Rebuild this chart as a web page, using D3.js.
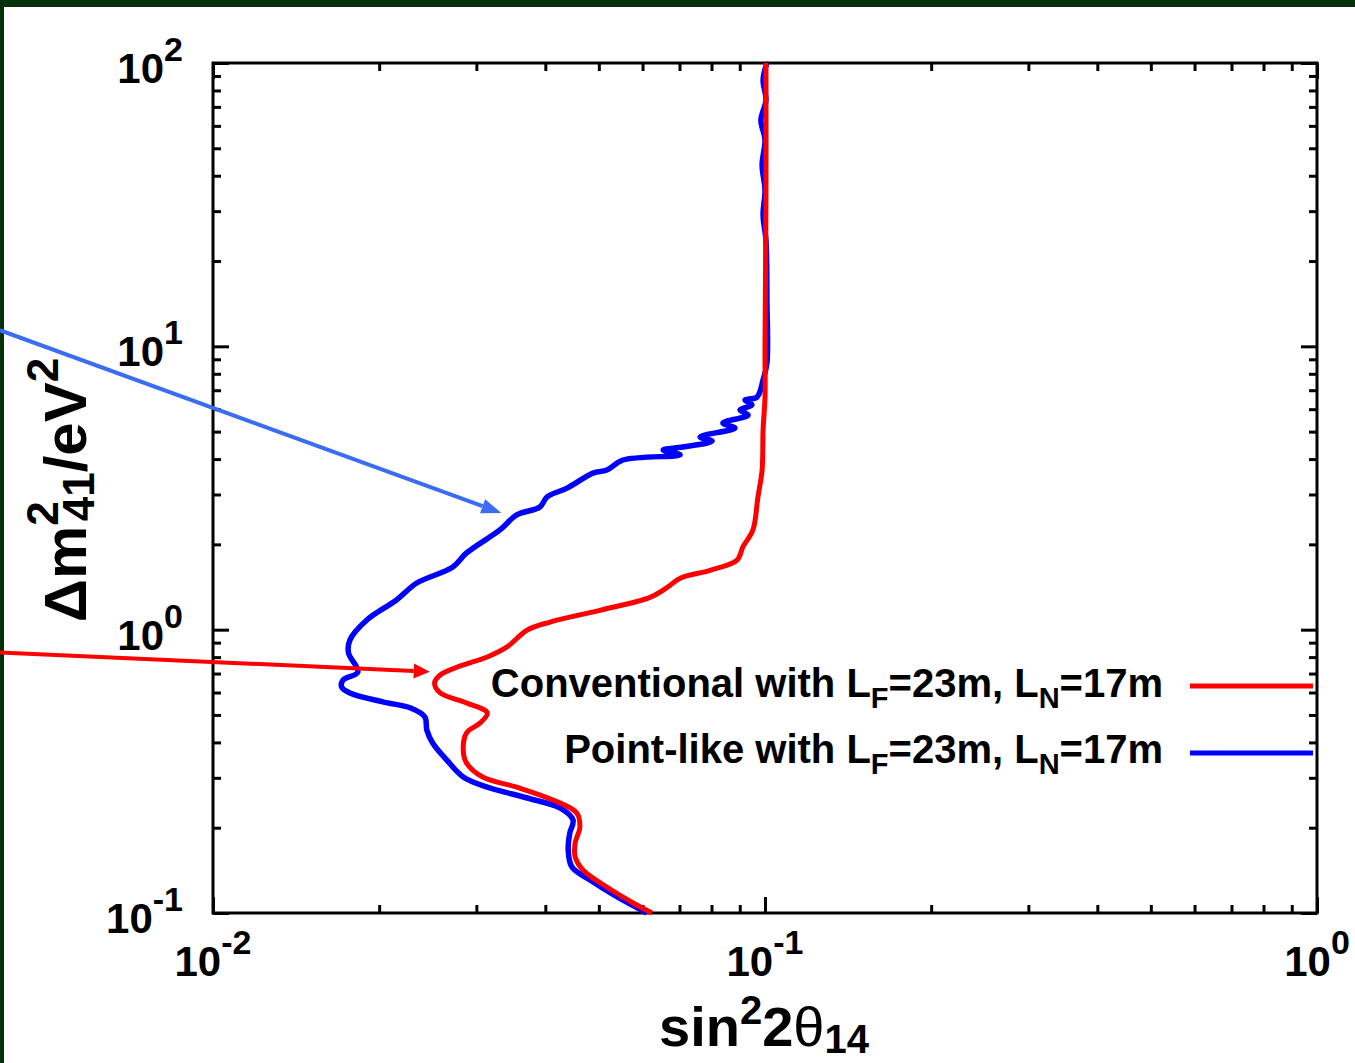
<!DOCTYPE html>
<html><head><meta charset="utf-8">
<script src="https://cdn.jsdelivr.net/npm/d3@7"></script>
<style>
html,body{margin:0;padding:0;background:#fff;overflow:hidden;}
svg{display:block;}
text{font-family:"Liberation Sans",Arial,sans-serif;font-weight:bold;fill:#000;}
</style></head><body>
<svg id="chart" width="1355" height="1063"></svg>
<script>
// ---- data ----
const conventionalSin2 = [0.1004,0.1004,0.1,0.1,0.0992,0.0988,0.0971,0.0951,0.0912,0.0890,0.0795,0.0702,0.0665,0.0619,0.0502,0.0408,0.0371,0.0341,0.0314,0.0277,0.0258,0.0252,0.0258,0.0288,0.0314,0.0305,0.0288,0.0284,0.0288,0.0308,0.0355,0.0413,0.0456,0.0462,0.0453,0.0453,0.0468,0.0517,0.0577,0.0624];
const conventionalDm2  = [100,32.9,10,6.62,5.07,3.66,2.94,2.25,1.96,1.76,1.62,1.52,1.41,1.30,1.17,1.064,0.997,0.869,0.801,0.738,0.692,0.648,0.598,0.551,0.508,0.469,0.432,0.376,0.338,0.302,0.278,0.2505,0.2254,0.2012,0.1767,0.1576,0.1418,0.1235,0.1085,0.1];

const pointSin2 = [0.1008,0.0992,0.1004,0.0983,0.1,0.0988,0.1,0.0992,0.1004,0.1008,0.1008,0.0992,0.0967,0.092,0.0947,0.0901,0.0932,0.0839,0.0882,0.0763,0.0802,0.071,0.0654,0.0702,0.0553,0.0517,0.0488,0.0438,0.0403,0.0391,0.0355,0.0331,0.0288,0.0272,0.0234,0.0215,0.019,0.0177,0.0176,0.0183,0.0172,0.0171,0.0177,0.0203,0.0228,0.0242,0.0244,0.025,0.0265,0.0284,0.0314,0.0371,0.0425,0.0449,0.0443,0.044,0.0447,0.0482,0.054,0.0611];
const pointDm2  = [100,87.1,74.0,62.9,53.5,43.7,35.6,29.1,23.7,14.6,8.73,7.61,6.62,6.46,6.21,5.96,5.72,5.36,5.15,4.79,4.63,4.41,4.31,4.14,3.97,3.66,3.57,3.16,2.94,2.71,2.54,2.25,1.865,1.664,1.461,1.273,1.082,0.919,0.827,0.709,0.664,0.628,0.598,0.556,0.529,0.492,0.442,0.398,0.347,0.302,0.278,0.2546,0.2348,0.213,0.1916,0.1669,0.1453,0.1307,0.1139,0.1];

const seriesNames = ["Conventional", "Point-like"];
const seriesColors = ["#ff0000", "#0000ff"];

const xTickValues = [0.01, 0.1, 1];
const xTickExponents = ["-2", "-1", "0"];
const yTickValues = [0.1, 1, 10, 100];
const yTickExponents = ["-1", "0", "1", "2"];

// annotation arrows: [fromSin2, fromDm2, toSin2, toDm2]
const blueArrow = [0.00411, 11.4, 0.0333, 2.58];
const redArrow  = [0.00411, 0.83, 0.0247, 0.711];

// ---- layout ----
const W = 1355, H = 1063;
const m = {left: 213, top: 63, right: 1317, bottom: 913};
const svg = d3.select("#chart");

svg.append("rect").attr("x",0).attr("y",0).attr("width",W).attr("height",H).attr("fill","#04300a");
svg.append("rect").attr("x",4).attr("y",7).attr("width",W-4).attr("height",H-7).attr("fill","#ffffff");

const x = d3.scaleLog().domain([0.01, 1]).range([m.left, m.right]);
const y = d3.scaleLog().domain([0.1, 100]).range([m.bottom, m.top]);

function minorTicks(lo, hi) {
  const out = [];
  for (let d = lo; d < hi; d *= 10) for (let k = 2; k <= 9; k++) out.push(d * k);
  return out;
}
const xMinor = minorTicks(0.01, 1);
const yMinor = minorTicks(0.1, 100);

function addAxis(gen, tr, vals, size) {
  const g = svg.append("g").attr("transform", tr)
    .call(gen.tickValues(vals).tickSize(size).tickFormat(""));
  g.select(".domain").remove();
  g.selectAll(".tick line").attr("stroke", "#000").attr("stroke-width", 3);
}
addAxis(d3.axisBottom(x), `translate(0,${m.bottom})`, xTickValues, -16);
addAxis(d3.axisBottom(x), `translate(0,${m.bottom})`, xMinor, -8);
addAxis(d3.axisTop(x), `translate(0,${m.top})`, xTickValues, -16);
addAxis(d3.axisTop(x), `translate(0,${m.top})`, xMinor, -8);
addAxis(d3.axisLeft(y), `translate(${m.left},0)`, yTickValues, -16);
addAxis(d3.axisLeft(y), `translate(${m.left},0)`, yMinor, -8);
addAxis(d3.axisRight(y), `translate(${m.right},0)`, yTickValues, -16);
addAxis(d3.axisRight(y), `translate(${m.right},0)`, yMinor, -8);

// frame
svg.append("rect").attr("x", m.left).attr("y", m.top)
  .attr("width", m.right - m.left).attr("height", m.bottom - m.top)
  .attr("fill", "none").attr("stroke", "#000").attr("stroke-width", 3);

// tick labels
xTickValues.forEach((v, i) => {
  const t = svg.append("text").attr("x", x(v)).attr("y", 976)
    .attr("text-anchor", "middle").style("font-size", "42px");
  t.append("tspan").text("10");
  t.append("tspan").attr("dy", -22).style("font-size", "34px").text(xTickExponents[i]);
});
yTickValues.forEach((v, i) => {
  const t = svg.append("text").attr("x", 183).attr("y", y(v) + 20)
    .attr("text-anchor", "end").style("font-size", "42px");
  t.append("tspan").text("10");
  t.append("tspan").attr("dy", -22).style("font-size", "34px").text(yTickExponents[i]);
});

// axis titles
const xt = svg.append("text").attr("x", 764).attr("y", 1046)
  .attr("text-anchor", "middle").style("font-size", "56px");
xt.append("tspan").text("sin");
xt.append("tspan").attr("dy", -22).style("font-size", "40px").text("2");
xt.append("tspan").attr("dy", 22).text("2");
xt.append("tspan").style("font-weight", "normal").text("θ");
xt.append("tspan").attr("dy", 7).style("font-size", "40px").text("14");

const yt = svg.append("text").attr("transform", "translate(86,490) rotate(-90)")
  .attr("text-anchor", "middle").style("font-size", "60px");
yt.append("tspan").text("Δm");
yt.append("tspan").attr("dy", -28).style("font-size", "44px").text("2");
yt.append("tspan").attr("dx", -20).attr("dy", 36).style("font-size", "44px").text("41");
yt.append("tspan").attr("dy", -8).text("/eV");
yt.append("tspan").attr("dy", -28).style("font-size", "44px").text("2");

// curves
const line = d3.line().x(d => x(d[0])).y(d => y(d[1])).curve(d3.curveCatmullRom.alpha(0.5));
const convData = conventionalSin2.map((v, i) => [v, conventionalDm2[i]]);
const pointData = pointSin2.map((v, i) => [v, pointDm2[i]]);
svg.append("path").datum(pointData).attr("d", line)
  .attr("fill", "none").attr("stroke", seriesColors[1]).attr("stroke-width", 5.5)
  .attr("stroke-linejoin", "round");
svg.append("path").datum(convData).attr("d", line)
  .attr("fill", "none").attr("stroke", seriesColors[0]).attr("stroke-width", 5)
  .attr("stroke-linejoin", "round");

// legend
const legendRows = [
  {name: seriesNames[0], color: seriesColors[0], base: 697, ly: 686},
  {name: seriesNames[1], color: seriesColors[1], base: 763, ly: 753}
];
legendRows.forEach(r => {
  const t = svg.append("text").attr("x", 1163).attr("y", r.base)
    .attr("text-anchor", "end").style("font-size", "40px");
  t.append("tspan").text(r.name + " with L");
  t.append("tspan").attr("dy", 11).style("font-size", "29px").text("F");
  t.append("tspan").attr("dy", -11).text("=23m, L");
  t.append("tspan").attr("dy", 11).style("font-size", "29px").text("N");
  t.append("tspan").attr("dy", -11).text("=17m");
  svg.append("line").attr("x1", 1190).attr("x2", 1313).attr("y1", r.ly).attr("y2", r.ly)
    .attr("stroke", r.color).attr("stroke-width", 5);
});

// arrows
function arrow(a, color, headLen, headW) {
  const x1 = x(a[0]), y1 = y(a[1]), x2 = x(a[2]), y2 = y(a[3]);
  const ang = Math.atan2(y2 - y1, x2 - x1);
  const bx = x2 - headLen * Math.cos(ang), by = y2 - headLen * Math.sin(ang);
  svg.append("line").attr("x1", x1).attr("y1", y1).attr("x2", bx).attr("y2", by)
    .attr("stroke", color).attr("stroke-width", 4);
  const px = -Math.sin(ang) * headW / 2, py = Math.cos(ang) * headW / 2;
  svg.append("path").attr("d", `M${x2},${y2}L${bx + px},${by + py}L${bx - px},${by - py}Z`)
    .attr("fill", color);
}
arrow(blueArrow, "#3a6cf4", 20, 15);
arrow(redArrow, "#ff0000", 16, 15);
</script>
</body></html>
